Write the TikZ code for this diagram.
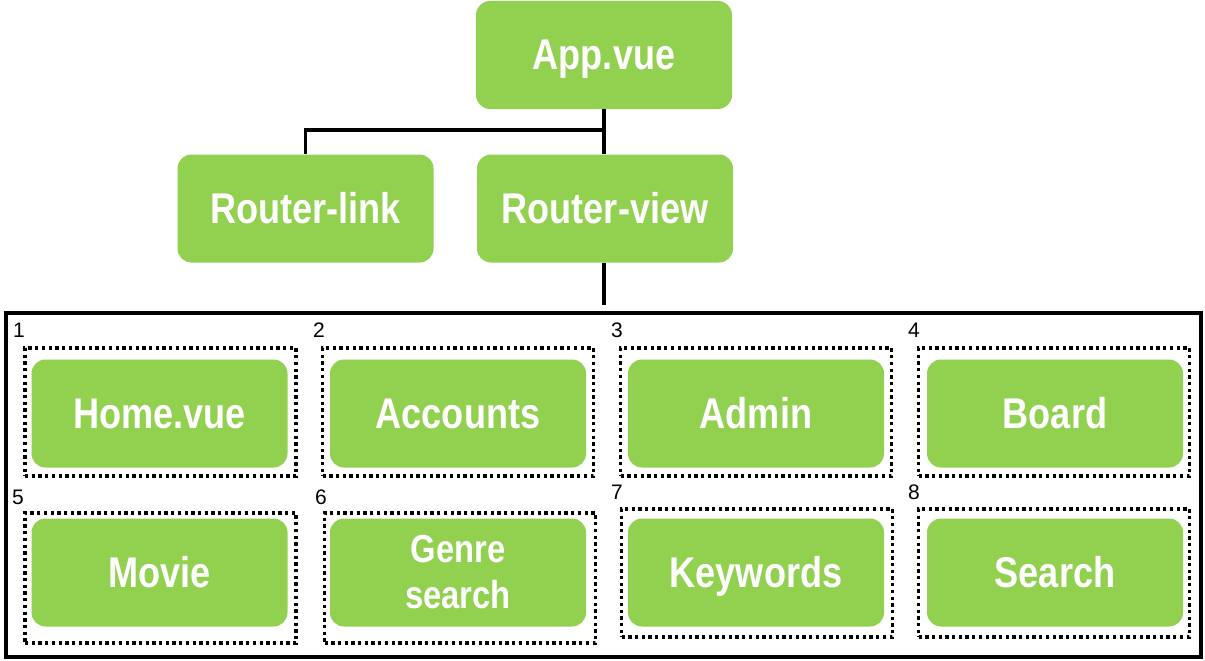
\documentclass[tikz,border=0pt]{standalone}
\usepackage{fontspec}
\setmainfont{Liberation Sans}
\newfontfamily\boxfont[FakeStretch=0.84]{Liberation Sans}
\definecolor{boxgreen}{RGB}{146,208,80}
\begin{document}
\begin{tikzpicture}[x=1pt,y=-1pt,
  gbox/.style={rectangle, rounded corners=14pt, fill=boxgreen, draw=none,
    minimum width=256pt, minimum height=108pt, inner sep=0pt, text=white,
    font=\boxfont\bfseries\fontsize{43}{47}\selectfont, text height=30pt, text depth=0pt},
  gbox2/.style={gbox, text height=, text depth=, align=center,
    font=\boxfont\bfseries\fontsize{39}{46}\selectfont},
  dotbox/.style={rectangle, draw=black, line width=3.3pt, dash pattern=on 3.3pt off 3.4pt,
    minimum width=271pt, inner sep=0pt},
  numlbl/.style={font=\fontsize{21}{23}\selectfont, inner sep=0pt, text=black},
  conn/.style={line width=3.5pt, draw=black}]
\useasboundingbox (0,0) rectangle (1205,661);
\fill[white] (0,0) rectangle (1205,661);

% top nodes
\node[gbox] (app) at (604,55) {App.vue};
\node[gbox] (rlink) at (305.5,208.5) {Router-link};
\node[gbox] (rview) at (605,208.5) {Router-view};

% outer frame
\node[draw=black, line width=4pt, minimum width=1195pt, minimum height=344pt, inner sep=0pt]
  (frame) at (603,484.5) {};

% connectors
\coordinate (junc) at (604,130);
\coordinate (vend) at (604,305);
\draw[conn] (app.south -| junc) -- (rview.north -| junc);
\draw[conn] (junc) -| (rlink.north);
\draw[conn] (rview.south -| vend) -- (vend);

% row 1 dotted boxes
\node[dotbox, minimum height=128pt] (d1) at (160.5,412) {};
\node[dotbox, minimum height=128pt] (d2) at (458,412) {};
\node[dotbox, minimum height=128pt] (d3) at (756,412) {};
\node[dotbox, minimum height=128pt] (d4) at (1054,412) {};
% row 2 dotted boxes
\node[dotbox, minimum height=130pt] (d5) at (160.5,578) {};
\node[dotbox, minimum height=130pt] (d6) at (460,578) {};
\node[dotbox, minimum height=128pt] (d7) at (757,573) {};
\node[dotbox, minimum height=128pt] (d8) at (1054,573) {};

% green boxes
\node[gbox] (home) at (159.5,413.5) {Home.vue};
\node[gbox] (accounts) at (458,413.5) {Accounts};
\node[gbox] (admin) at (756,413.5) {Admin};
\node[gbox] (board) at (1055,413.5) {Board};
\node[gbox] (movie) at (159.5,572.5) {Movie};
\node[gbox2] (genre) at (458,572.5) {Genre\\search};
\node[gbox] (keywords) at (756,572.5) {Keywords};
\node[gbox] (search) at (1055,572.5) {Search};

% number labels
\node[numlbl] (n1) at (19,330) {1};
\node[numlbl] (n2) at (319,330) {2};
\node[numlbl] (n3) at (617,330) {3};
\node[numlbl] (n4) at (914,330) {4};
\node[numlbl] (n5) at (18,497) {5};
\node[numlbl] (n6) at (321,497) {6};
\node[numlbl] (n7) at (617,492) {7};
\node[numlbl] (n8) at (914,492) {8};
\end{tikzpicture}
\end{document}
